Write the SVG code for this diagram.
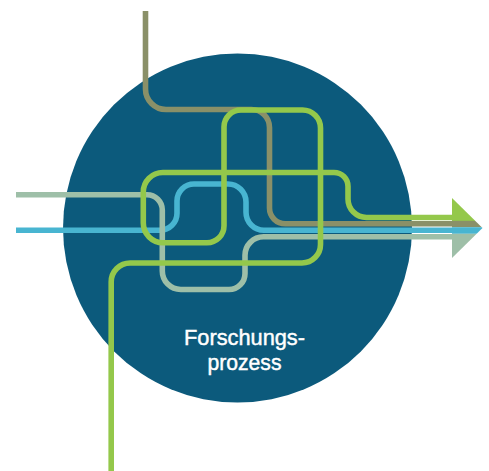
<svg xmlns="http://www.w3.org/2000/svg" width="489" height="471" viewBox="0 0 489 471">
  <style>
    .ln { fill: none; stroke-width: 5.6; stroke-linecap: butt; stroke-linejoin: round; }
    .olive { stroke: #8a9068; }
    .green { stroke: #94c84b; }
    .blue { stroke: #48b5d1; }
    .sage { stroke: #9ebfa8; }
    .label { font-family: "Liberation Sans", Arial, sans-serif; font-size: 22px; fill: #ffffff; stroke: #ffffff; stroke-width: 0.45; text-anchor: middle; }
  </style>
  <defs>
    <clipPath id="arrowhead">
      <polygon points="452,198 482.5,228 452,258"/>
    </clipPath>
  </defs>
  <rect width="489" height="471" fill="#ffffff"/>
  <g id="forschungsprozess">
    <circle cx="237.5" cy="228" r="174.5" fill="#0c5a7c"/>
    <text class="label" x="244.5" y="344.5" textLength="121" lengthAdjust="spacingAndGlyphs">Forschungs-</text>
    <text class="label" x="244.5" y="369.5" textLength="74" lengthAdjust="spacingAndGlyphs">prozess</text>
  </g>
  <g id="connectors">
    <path class="ln blue" d="M16,230.3 H160 A17,17 0 0 0 177,213.3 V201 A17,17 0 0 1 194,184 H228 A18,18 0 0 1 246,202 V212.3 A18,18 0 0 0 264,230.3 H452"/>
    <path class="ln sage" d="M16,194.7 H147 A15.3,15.3 0 0 1 162.3,210 V271 A18.5,18.5 0 0 0 180.8,289.5 H229 A16,16 0 0 0 245,273.5 V255.3 A18.5,18.5 0 0 1 263.5,236.8 H452"/>
    <path class="ln olive" d="M145.5,11 V89 A20.5,20.5 0 0 0 166,109.5 H251.5 A18,18 0 0 1 269.5,127.5 V208 A15.8,15.8 0 0 0 285.3,223.8 H452"/>
    <path class="ln green" d="M111.2,471 V282 A19,19 0 0 1 130.2,263 H302 A18.5,18.5 0 0 0 320.5,244.5 V128 A18,18 0 0 0 302.5,110 H241 A17,17 0 0 0 224,127 V225.7 A17,17 0 0 1 207,242.7 H163 A19.7,19.7 0 0 1 143.3,223 V192 A19.5,19.5 0 0 1 162.8,172.5 H334 A14,14 0 0 1 348,186.5 V199 A18.5,18.5 0 0 0 366.5,217.5 H452"/>
    <g id="arrow-head" clip-path="url(#arrowhead)">
      <rect x="451.5" y="196" width="32" height="25" fill="#94c84b"/>
      <rect x="451.5" y="220.8" width="32" height="6.4" fill="#8a9068"/>
      <rect x="451.5" y="227.2" width="32" height="6.6" fill="#48b5d1"/>
      <rect x="451.5" y="233.8" width="32" height="26" fill="#9ebfa8"/>
    </g>
  </g>
</svg>
